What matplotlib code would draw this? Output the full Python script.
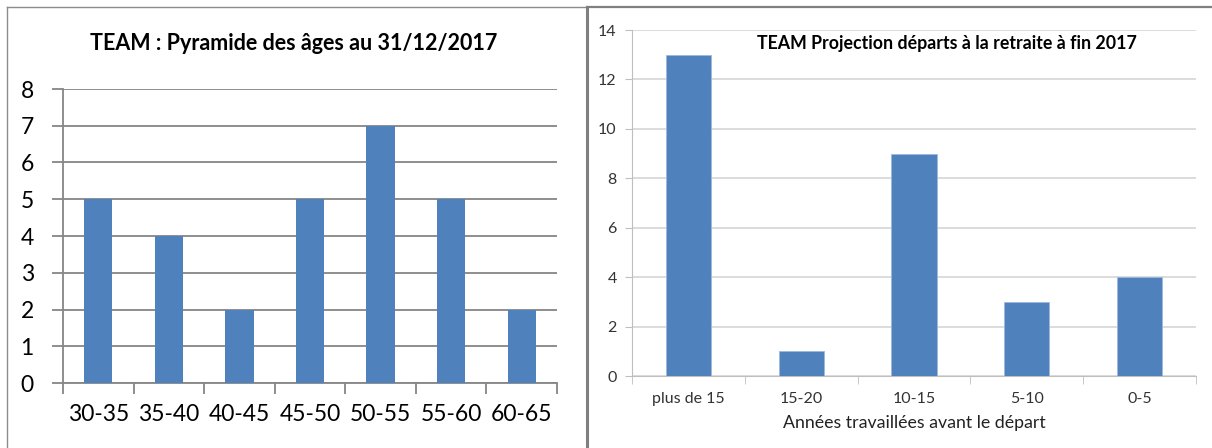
import matplotlib as mpl
mpl.use('agg')
import matplotlib.pyplot as plt
from matplotlib.lines import Line2D
import numpy as np

plt.rcParams['font.family'] = ['Lato', 'DejaVu Sans']

# data
age_labels = ['30-35', '35-40', '40-45', '45-50', '50-55', '55-60', '60-65']
age_counts = [5, 4, 2, 5, 7, 5, 2]

dep_labels = ['plus de 15', '15-20', '10-15', '5-10', '0-5']
dep_counts = [13, 1, 9, 3, 4]

BLUE = '#4F81BD'
W, H = 1212, 448


def px_axes(fig, left, top, right, bottom):
    return fig.add_axes([left / W, 1 - bottom / H, (right - left) / W, (bottom - top) / H])


fig = plt.figure(figsize=(W / 100, H / 100), dpi=100)

# frames round the two charts
fig.add_artist(Line2D([7 / W, 7 / W], [0, 1 - 7 / H], color='#8c8c8c', lw=1))
fig.add_artist(Line2D([7 / W, 587 / W], [1 - 7 / H, 1 - 7 / H], color='#8c8c8c', lw=1))
fig.add_artist(Line2D([587 / W, 587 / W], [0, 1 - 7 / H], color='#808080', lw=2.2))
fig.add_artist(Line2D([587 / W, 1], [1 - 7 / H, 1 - 7 / H], color='#808080', lw=1.6))

# left chart
ax = px_axes(fig, 63, 89, 557, 383)
x = np.arange(len(age_labels))
ax.bar(x, age_counts, width=0.4, color=BLUE, zorder=3)
ax.set_xlim(-0.5, len(age_labels) - 0.5)
ax.set_ylim(0, 8)
ax.set_yticks(range(0, 9))
ax.set_xticks(x)
ax.set_xticklabels(age_labels, fontsize=16.5)
ax.set_xticks(np.arange(-0.5, len(age_labels)), minor=True)
ax.tick_params(axis='x', which='major', length=0, pad=15)
ax.tick_params(axis='x', which='minor', length=8, width=1.3, color='#868686', direction='out')
ax.tick_params(axis='y', length=8, width=1.3, color='#868686', pad=13, labelsize=16.5)
ax.yaxis.grid(True, color='#868686', lw=1.3, zorder=0)
for s in ['top', 'right']:
    ax.spines[s].set_visible(False)
for s in ['left', 'bottom']:
    ax.spines[s].set_color('#868686')
    ax.spines[s].set_linewidth(1.3)
fig.text(294 / W, 1 - 44 / H, 'TEAM : Pyramide des âges au 31/12/2017',
         ha='center', va='center', fontsize=15.5, fontweight='bold')

# right chart
ax2 = px_axes(fig, 632, 30, 1196, 376)
x2 = np.arange(len(dep_labels))
ax2.bar(x2, dep_counts, width=0.4, color=BLUE, edgecolor='#9db8db', lw=0.6, zorder=3)
ax2.set_xlim(-0.5, len(dep_labels) - 0.5)
ax2.set_ylim(0, 14)
ax2.set_yticks(range(0, 15, 2))
ax2.set_xticks(x2)
ax2.set_xticklabels(dep_labels, fontsize=11.5, color='#333333')
ax2.set_xticks(np.arange(-0.5, len(dep_labels)), minor=True)
ax2.tick_params(axis='x', which='major', length=0, pad=11.5)
ax2.tick_params(axis='x', which='minor', length=6, color='#bfbfbf', direction='out')
ax2.tick_params(axis='y', length=5, color='#bfbfbf', pad=6, labelsize=11.5, labelcolor='#333333')
ax2.yaxis.grid(True, color='#d9d9d9', lw=1.3, zorder=0)
for s in ['top', 'right']:
    ax2.spines[s].set_visible(False)
for s in ['left', 'bottom']:
    ax2.spines[s].set_color('#bfbfbf')
ax2.set_xlabel('Années travaillées avant le départ', fontsize=12.8, color='#222222', labelpad=6.5)
fig.text(947 / W, 1 - 43 / H, 'TEAM Projection départs à la retraite à fin 2017',
         ha='center', va='center', fontsize=12.8, fontweight='bold')

fig.savefig('out.png', dpi=100)
